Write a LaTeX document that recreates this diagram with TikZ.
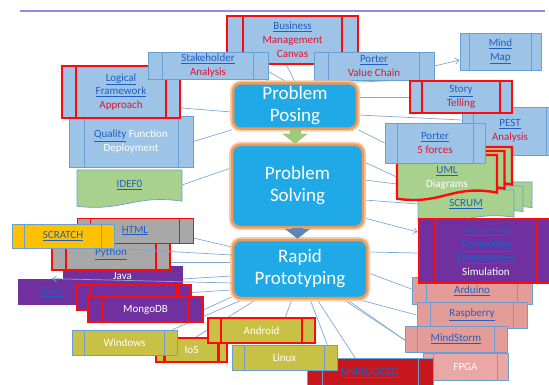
\documentclass[tikz,border=0pt]{standalone}
\usepackage{fontspec}
\setmainfont{Carlito}
\usetikzlibrary{arrows.meta, calc, backgrounds}
\usepackage{xcolor}

\definecolor{pblue}{HTML}{9DC3E6}
\definecolor{pedge}{HTML}{6A9FD6}
\definecolor{lnkblue}{HTML}{1F5FC4}
\definecolor{redtxt}{HTML}{E3122D}
\definecolor{selred}{HTML}{FF0A0A}
\definecolor{docgreen}{HTML}{A9D18E}
\definecolor{purp}{HTML}{7030A0}
\definecolor{greybox}{HTML}{A8A8A8}
\definecolor{scratchy}{HTML}{FFC000}
\definecolor{olive}{HTML}{C9C145}
\definecolor{pinkbox}{HTML}{E49C98}
\definecolor{pinklt}{HTML}{E9A8A5}
\definecolor{unplug}{HTML}{C8161D}
\definecolor{coreblue}{HTML}{1FA9E6}
\definecolor{coreedge}{HTML}{EE9A5A}
\definecolor{coreglow}{HTML}{F7CBA6}
\definecolor{wire}{HTML}{7FA9D9}
\definecolor{topbar}{HTML}{8C8CF0}
\definecolor{stepgreen}{HTML}{9CCB7A}
\definecolor{stepblue}{HTML}{5E86B4}

\newcommand{\lnk}[1]{\textcolor{lnkblue}{\underline{#1}}}
\newcommand{\rtx}[1]{\textcolor{redtxt}{#1}}
\newcommand{\wtx}[1]{\textcolor{white}{#1}}
% wavy document outline: x0, y0, x1, y1, style
\newcommand{\docshape}[5]{%
  \filldraw[#5] (#1,#2) -- (#3,#2) -- (#3,{#2+0.8*(#4-#2)})
    .. controls ({#1+0.55*(#3-#1)},{#2+0.62*(#4-#2)}) and ({#1+0.45*(#3-#1)},{#2+1.07*(#4-#2)})
    .. (#1,{#2+0.93*(#4-#2)}) -- cycle;}

\tikzset{
  bar color/.store in=\barcolor, bar width/.store in=\barwidth,
  bar color=pedge, bar width=0.7pt,
  sz/.style 2 args={minimum width=#1pt, minimum height=#2pt},
  proc/.style={rectangle, draw=pedge, fill=#1, line width=0.7pt, inner sep=1pt,
               align=center, font=\fontsize{11}{13.8}\selectfont,
               path picture={\draw[color=\barcolor, line width=\barwidth]
                 ($(path picture bounding box.north west)!0.12!(path picture bounding box.north east)$)
                   -- ($(path picture bounding box.south west)!0.12!(path picture bounding box.south east)$)
                 ($(path picture bounding box.north east)!0.12!(path picture bounding box.north west)$)
                   -- ($(path picture bounding box.south east)!0.12!(path picture bounding box.south west)$);}},
  proc/.default=pblue,
  plainbox/.style={rectangle, draw=#1, fill=#1, line width=0.7pt, inner sep=1pt,
                   align=center, font=\fontsize{11}{13.8}\selectfont},
  picked/.style={draw=selred, line width=2.4pt, bar color=selred, bar width=2.4pt},
  thinpick/.style={draw=selred, line width=0.9pt, bar color=selred, bar width=0.9pt},
  docbox/.style={fill=docgreen, draw=pedge, line width=0.7pt},
  docpicked/.style={fill=docgreen, draw=selred, line width=2.4pt},
  doclabel/.style={inner sep=1pt, align=center, font=\fontsize{11}{13.8}\selectfont},
  core/.style={rectangle, rounded corners=8pt, fill=coreblue, draw=coreedge, line width=2.5pt,
               preaction={draw=coreglow, line width=6pt}, text=white, align=center,
               font=\fontsize{19}{22}\selectfont},
  wire/.style={draw=wire, line width=0.7pt},
  warr/.style={wire, -{Straight Barb[length=4pt, width=6pt]}},
  stepflow/.style={draw=#1, line width=11pt, -{Triangle[width=25pt, length=10pt]}}
}

\begin{document}
\begin{tikzpicture}[x=1pt, y=-1pt]
  \useasboundingbox (0,0) rectangle (549,385);
  \draw[topbar, line width=2.2pt] (20,11) -- (545,11);

  % posing side
  \node[proc, sz={124}{51}] (quality) at (131,141.5) {\lnk{Quality} \wtx{Function}\\\wtx{Deployment}};
  \node[proc, picked, sz={118}{52}] (logframe) at (121,92) {\lnk{Logical}\\\lnk{Framework}\\\rtx{Approach}};
  \node[proc, picked, sz={131}{48}] (bmc) at (292.5,40) {\lnk{Business}\\\rtx{Management}\\\rtx{Canvas}};
  \node[proc, sz={120}{27}] (stake) at (208,65.5) {\lnk{Stakeholder}\\\rtx{Analysis}};
  \node[proc, sz={120}{28}] (valuechain) at (374,66) {\lnk{Porter}\\\rtx{Value Chain}};
  \node[proc, sz={81}{37}] (mindmap) at (500.5,51.5) {\lnk{Mind}\\\lnk{Map}};
  \node[proc, sz={96}{48}] (pest) at (510,131) {\lnk{PEST}\\\rtx{Analysis}};
  \node[proc, picked, sz={102}{32}] (story) at (461,97) {\lnk{Story}\\\rtx{Telling}};

  % solving side
  \docshape{77}{170}{182}{209}{docbox}
  \node[doclabel, sz={105}{30}] (idef) at (129.5,185) {\lnk{IDEF0}};
  \docshape{436}{182}{532}{214}{docbox}
  \docshape{427}{186}{523}{218}{docbox}
  \docshape{418}{190}{514}{224}{docbox}
  \node[doclabel, sz={96}{24}] (scrum) at (466,204) {\lnk{SCRUM}};
  \docshape{412}{147}{512}{194}{docpicked}
  \docshape{404.5}{151}{504.5}{198}{docpicked}
  \docshape{397}{155}{497}{202}{docpicked}
  \node[doclabel, sz={100}{36}] (uml) at (447,178) {\lnk{UML}\\\wtx{Diagrams}};
  \node[proc, sz={100}{40}] (fiveforces) at (435,143) {\lnk{Porter}\\\rtx{5 forces}};

  % prototyping side, right
  \node[proc=pinkbox, sz={120}{27}] (arduino) at (472,290.5) {\lnk{Arduino}};
  \node[proc=purp, picked, sz={134}{64}] (ace) at (486,251)
       {\lnk{Advanced}\\\lnk{Computing}\\\lnk{Environment}\\\wtx{Simulation}};
  \node[proc=pinkbox, sz={110}{26}] (raspberry) at (472,315) {\lnk{Raspberry}};
  \node[proc=pinkbox, sz={102}{26}] (mindstorm) at (456,339) {\lnk{MindStorm}};
  \node[proc=pinklt, sz={85}{27}] (fpga) at (465.5,366.5) {\wtx{FPGA}};
  \node[proc=unplug, sz={126}{30}] (unplugged) at (370,373) {\lnk{UNPLUGGED}};

  % prototyping side, bottom
  \node[proc=olive, sz={105}{25}] (linux) at (284.5,357.5) {\wtx{Linux}};
  \node[proc=olive, picked, sz={71}{24}] (ios) at (191.5,350) {\wtx{IoS}};
  \node[proc=olive, picked, sz={107}{25}] (android) at (261.5,330.5) {\wtx{Android}};
  \node[proc=olive, sz={105}{25}] (windows) at (124.5,342.5) {\wtx{Windows}};

  % prototyping side, left
  \node[plainbox=purp, sz={68}{25}] (flask) at (52,291.5) {\lnk{Flask}};
  \node[plainbox=purp, sz={119}{20}] (java) at (122.5,276) {\wtx{Java}};
  \node[proc=purp, picked, sz={114}{25}] (purplebox) at (134,297.5) {};
  \node[proc=purp, picked, sz={115}{25}] (mongo) at (145.5,309.5) {\wtx{MongoDB}};
  \node[proc=greybox, picked, sz={118}{32}] (python) at (111,254) {\lnk{Python}};
  \node[proc=greybox, thinpick, sz={116}{25}] (html) at (135,230.5) {\lnk{HTML}};
  \node[proc=scratchy, sz={102}{24}] (scratch) at (63,236) {\lnk{SCRATCH}};

  % the three stages
  \node[core, sz={124}{42}] (posing) at (295,106) {Problem\\Posing};
  \node[core, sz={131}{82}] (solving) at (297.5,186) {Problem\\Solving};
  \node[core, sz={134}{58}] (rapid) at (300,269) {Rapid\\Prototyping};

  \draw[stepflow=stepgreen] (posing.south) -- (posing.south |- solving.north);
  \draw[stepflow=stepblue] (solving.south) -- (solving.south |- rapid.north);

  \begin{pgfonlayer}{background}
    \draw[wire] (posing.north) -- ([xshift=-6pt]bmc.south);
    \draw[wire] ([xshift=-8pt]posing.north) -- ([xshift=-35pt]bmc.south);
    \draw[wire] ([xshift=-30pt]posing.north) -- (stake.south east);
    \draw[wire] ([yshift=-6pt]posing.west) -- ([yshift=-16pt]logframe.east);
    \draw[wire] (posing.south west) -- (quality.east);
    \draw[wire] ([xshift=-4pt]posing.north east) -- ([xshift=26pt]valuechain.south);
    \draw[warr] (valuechain.east) -- ([yshift=-8.5pt]mindmap.west);
    \draw[wire] ([yshift=9pt]posing.east) -- (story.west);
    \draw[wire] ([yshift=-9pt]posing.east) -- ([yshift=11pt]pest.west);
    \draw[wire] (posing.south east) -- (fiveforces.west);

    \draw[wire] ([yshift=18pt]solving.west) -- (idef.east);
    \draw[wire] ([yshift=24pt]solving.east) -- ([yshift=1pt]uml.west);
    \draw[wire] ([yshift=6pt]solving.east) -- ([yshift=-6pt]uml.west);
    \draw[wire] ([yshift=-14pt]solving.east) -- (scrum.west);
    \draw[warr] ([yshift=-32pt]solving.east) -- ([yshift=19pt]ace.west);

    \draw[wire] ([yshift=22pt]rapid.west) -- ([yshift=-7.5pt]html.east);
    \draw[wire] ([yshift=7pt]rapid.west) -- ([yshift=-8pt]python.east);
    \draw[wire] ([yshift=-7pt]rapid.west) -- ([yshift=-3pt]java.east);
    \draw[wire] ([yshift=-21pt]rapid.west) -- ([yshift=5pt]purplebox.east);
    \draw[wire] ([yshift=-28pt]rapid.west) -- (mongo.east);
    \draw[wire] ([xshift=12pt]rapid.south west) -- ([xshift=-5pt]windows.north east);
    \draw[wire] ([xshift=25pt]rapid.south west) -- ([xshift=5pt]ios.north);
    \draw[wire] ([xshift=-8pt]rapid.south) -- ([xshift=24pt]android.north);
    \draw[wire] ([xshift=10pt]rapid.south) -- ([xshift=-10pt]linux.north east);
    \draw[wire] ([xshift=17pt]rapid.south) -- ([xshift=-15pt]unplugged.north);
    \draw[wire] ([xshift=43pt]rapid.south) -- ([yshift=-1pt]mindstorm.west);
    \draw[wire] ([xshift=45pt,yshift=1pt]rapid.south) -- (fpga.north west);
    \draw[wire] ([xshift=46pt,yshift=3pt]rapid.south) -- (raspberry.west);
    \draw[wire] ([yshift=-4pt]rapid.east) -- ([yshift=1.5pt]arduino.west);
    \draw[wire] ([yshift=17pt]rapid.east) -- ([yshift=-2pt]ace.west);
  \end{pgfonlayer}

  \draw[wire] ([yshift=14pt]rapid.west) -- (scratch.south east);
  \draw[warr] ([yshift=-14pt]rapid.west) -- (flask.north);
\end{tikzpicture}
\end{document}
